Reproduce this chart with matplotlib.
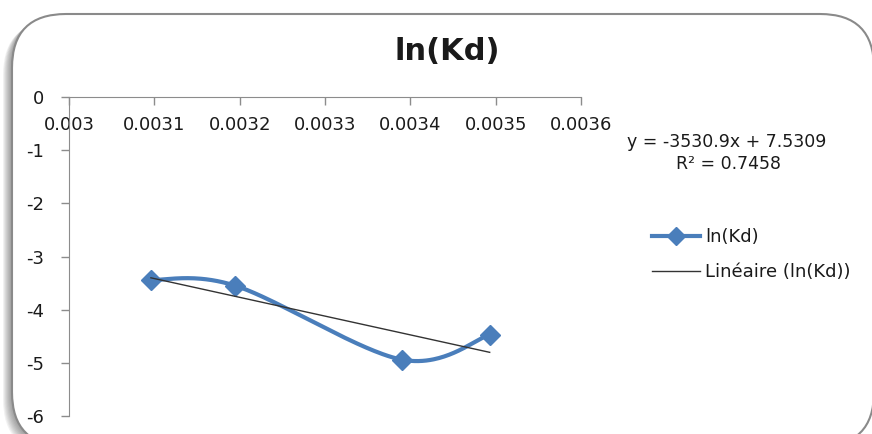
import matplotlib.pyplot as plt
import numpy as np
from matplotlib.patches import FancyBboxPatch
from matplotlib.lines import Line2D

# inverse temperature (1/K) and ln(Kd) values
inv_T = [0.003096, 0.003195, 0.003390, 0.003493]
ln_kd = [-3.44, -3.55, -4.94, -4.47]

# linear trendline coefficients (as printed on the chart)
slope = -3530.9
intercept = 7.5309
r2 = 0.7458

x_ticks = [0.003, 0.0031, 0.0032, 0.0033, 0.0034, 0.0035, 0.0036]
x_tick_labels = ['0.003', '0.0031', '0.0032', '0.0033', '0.0034', '0.0035', '0.0036']
y_ticks = [0, -1, -2, -3, -4, -5, -6]

plt.rcParams['font.family'] = ['DejaVu Sans']

W, H = 872, 434
fig = plt.figure(figsize=(W / 100, H / 100), dpi=100)

# background layer in pixel units for the rounded chart frame
bg = fig.add_axes([0, 0, 1, 1])
bg.set_xlim(0, W)
bg.set_ylim(H, 0)
bg.axis('off')

x0, y0, x1, y1, rad = 12, 14, 874, 446, 54
# soft shadow down-left of the frame
for d in range(1, 10):
    sh = FancyBboxPatch((x0 - d, y0 + d * 0.8), x1 - x0, y1 - y0,
                        boxstyle=f"round,pad=0,rounding_size={rad}",
                        fc='#404040', ec='none', alpha=0.07)
    bg.add_patch(sh)
frame = FancyBboxPatch((x0, y0), x1 - x0, y1 - y0,
                       boxstyle=f"round,pad=0,rounding_size={rad}",
                       fc='white', ec='#8a8a8a', lw=1.5)
bg.add_patch(frame)


def smooth_curve(xs, ys, n=60):
    # Catmull-Rom style bezier smoothing, like spreadsheet "smoothed line"
    px = np.array(xs)
    py = np.array(ys)
    px_e = np.concatenate([[px[0]], px, [px[-1]]])
    py_e = np.concatenate([[py[0]], py, [py[-1]]])
    out_x, out_y = [], []
    t = np.linspace(0, 1, n)
    for i in range(len(px) - 1):
        p0x, p1x, p2x, p3x = px_e[i], px_e[i + 1], px_e[i + 2], px_e[i + 3]
        p0y, p1y, p2y, p3y = py_e[i], py_e[i + 1], py_e[i + 2], py_e[i + 3]
        c1x = p1x + (p2x - p0x) / 6
        c1y = p1y + (p2y - p0y) / 6
        c2x = p2x - (p3x - p1x) / 6
        c2y = p2y - (p3y - p1y) / 6
        bx = (1 - t) ** 3 * p1x + 3 * (1 - t) ** 2 * t * c1x + 3 * (1 - t) * t ** 2 * c2x + t ** 3 * p2x
        by = (1 - t) ** 3 * p1y + 3 * (1 - t) ** 2 * t * c1y + 3 * (1 - t) * t ** 2 * c2y + t ** 3 * p2y
        out_x.extend(bx)
        out_y.extend(by)
    return np.array(out_x), np.array(out_y)


ax = fig.add_axes([69 / W, 1 - 416 / H, (581 - 69) / W, (416 - 97) / H])
ax.patch.set_alpha(0)
ax.set_xlim(0.003, 0.0036)
ax.set_ylim(-6, 0)

axis_gray = '#8c8c8c'
ax.spines['right'].set_visible(False)
ax.spines['top'].set_visible(False)
ax.spines['bottom'].set_position(('data', 0))
ax.spines['bottom'].set_color(axis_gray)
ax.spines['left'].set_color(axis_gray)
ax.set_xticks(x_ticks)
ax.set_xticklabels(x_tick_labels)
ax.set_yticks(y_ticks)
ax.set_yticklabels([str(v) for v in y_ticks])
ax.tick_params(axis='both', colors=axis_gray, labelcolor='#1a1a1a',
               labelsize=13, length=6, width=1)
ax.tick_params(axis='x', pad=8)
ax.tick_params(axis='y', pad=12)

sx, sy = smooth_curve(inv_T, ln_kd)
ax.plot(sx, sy, color='#4a7ebb', lw=3, solid_capstyle='round', zorder=3)
ax.plot(inv_T, ln_kd, ls='none', marker='D', ms=10, color='#4a7ebb', zorder=4)

tx = np.array([inv_T[0], inv_T[-1]])
ax.plot(tx, slope * tx + intercept, color='#333333', lw=1, zorder=5)

fig.text(447 / W, 1 - 51 / H, 'ln(Kd)', ha='center', va='center',
         fontsize=22, fontweight='bold', color='#1a1a1a')
fig.text(727 / W, 1 - 142 / H, f'y = {slope}x + {intercept}', ha='center', va='center',
         fontsize=12.5, color='#1a1a1a')
fig.text(728 / W, 1 - 164 / H, f'R² = {r2}', ha='center', va='center',
         fontsize=12.5, color='#1a1a1a')

handles = [
    Line2D([], [], color='#4a7ebb', lw=3, marker='D', ms=9),
    Line2D([], [], color='#333333', lw=1),
]
leg = ax.legend(handles, ['ln(Kd)', 'Linéaire (ln(Kd))'],
                loc='upper left', bbox_to_anchor=(652 / W, 1 - 228 / H),
                bbox_transform=fig.transFigure, frameon=False,
                fontsize=13, handlelength=2.65, handletextpad=0.3,
                labelspacing=0.95, borderpad=0, borderaxespad=0)
for t in leg.get_texts():
    t.set_color('#1a1a1a')

fig.savefig('out.png', dpi=100)
